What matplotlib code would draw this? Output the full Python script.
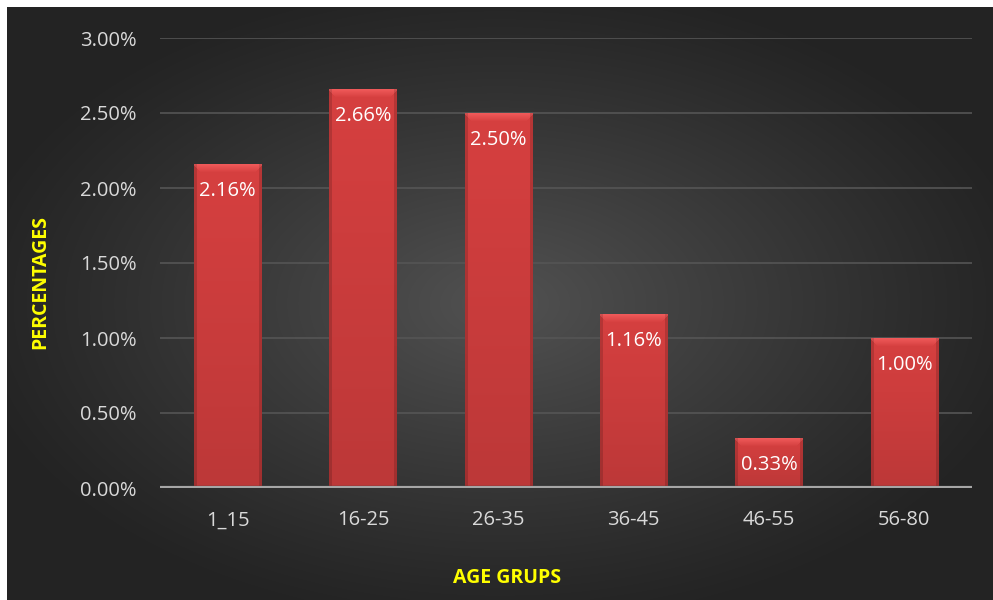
import matplotlib
matplotlib.use("Agg")
import matplotlib.pyplot as plt
import numpy as np

# Chart data
groups = ["1_15", "16-25", "26-35", "36-45", "46-55", "56-80"]
values = [2.16, 2.66, 2.50, 1.16, 0.33, 1.00]
yticks = [0.0, 0.5, 1.0, 1.5, 2.0, 2.5, 3.0]

plt.rcParams['font.family'] = ['Open Sans', 'DejaVu Sans']

W, H = 993, 600
fig = plt.figure(figsize=(W / 100, H / 100), dpi=100, facecolor="white")

# Dark radial gradient background (white margin top/left)
bg = fig.add_axes([7 / W, 0, (W - 7) / W, (H - 7) / H])
bg.set_axis_off()
yy, xx = np.mgrid[0:1:300j, 0:1:500j]
r = np.sqrt(((xx - 0.5) / 0.8) ** 2 + ((yy - 0.5) / 0.8) ** 2)
shade = np.clip(1 - r / 0.68, 0, 1) ** 1.1
g = 0.14 + 0.18 * shade
bg.imshow(np.dstack([g, g, g]), extent=[0, 1, 0, 1], aspect="auto", interpolation="bilinear")
bg.set_xlim(0, 1)
bg.set_ylim(0, 1)

left, right, top, bottom = 160, 972, 38, 488
ax = fig.add_axes([left / W, (H - bottom) / H, (right - left) / W, (bottom - top) / H])
ax.patch.set_alpha(0)
ax.set_xlim(-0.5, len(groups) - 0.5)
ax.set_ylim(0, 3.0)

for t in yticks[1:]:
    ax.axhline(t, color="#555555", lw=1.2, zorder=1)
ax.axhline(0, color="#a6a6a6", lw=3, zorder=4)

x = np.arange(len(groups))
bw = 0.5
bars = ax.bar(x, values, width=bw, color="#d33f3f", zorder=2)

# bevel shading for each bar
px_per_unit_x = (right - left) / len(groups)
px_per_unit_y = (bottom - top) / 3.0
base = np.array([0.84, 0.25, 0.25])
for b, v in zip(bars, values):
    wpx = int(round(bw * px_per_unit_x))
    hpx = max(int(round(v * px_per_unit_y)), 2)
    jj, ii = np.mgrid[0:hpx, 0:wpx]
    img = np.tile(base, (hpx, wpx, 1)).astype(float)
    # vertical darkening toward bottom
    frac = jj / max(hpx - 1, 1)
    img *= (1 - 0.12 * frac)[..., None]
    # sides darker
    side = np.minimum(ii, wpx - 1 - ii)
    img *= np.where(side < 3, 0.85, 1.0)[..., None]
    # top bevel lighter, fading downward, slanted corners
    topmask = (jj < 8) & (jj <= side + 1)
    fade = np.clip(1 - jj / 8.0, 0, 1)
    add = 0.10 * fade * topmask
    img = np.clip(img + add[..., None], 0, 1)
    # bottom edge darker
    img[jj >= hpx - 3] *= 0.88
    ax.imshow(img, extent=[b.get_x(), b.get_x() + bw, 0, v], aspect="auto",
              interpolation="bilinear", zorder=3)
    ax.text(b.get_x() + bw / 2, v - 27 / px_per_unit_y, f"{v:.2f}%", ha="center", va="center",
            color="white", fontsize=14.5, zorder=5)

ax.set_aspect("auto")
ax.set_xlim(-0.5, len(groups) - 0.5)
ax.set_ylim(0, 3.0)

ax.set_yticks(yticks)
ax.set_yticklabels([f"{t:.2f}%" for t in yticks])
ax.set_xticks(x)
ax.set_xticklabels(groups)
ax.tick_params(axis="both", length=0, colors="#d9d9d9", labelsize=14.5)
ax.tick_params(axis="y", pad=17)
ax.tick_params(axis="x", pad=16)
for s in ax.spines.values():
    s.set_visible(False)

fig.text(507 / W, 1 - 578 / H, "AGE GRUPS", color="#ffff00", fontsize=14, fontweight="bold",
         ha="center", va="center")
fig.text(40 / W, 1 - 282 / H, "PERCENTAGES", color="#ffff00", fontsize=14, fontweight="bold",
         ha="center", va="center", rotation=90)

fig.savefig("out.png", dpi=100, facecolor="white")
